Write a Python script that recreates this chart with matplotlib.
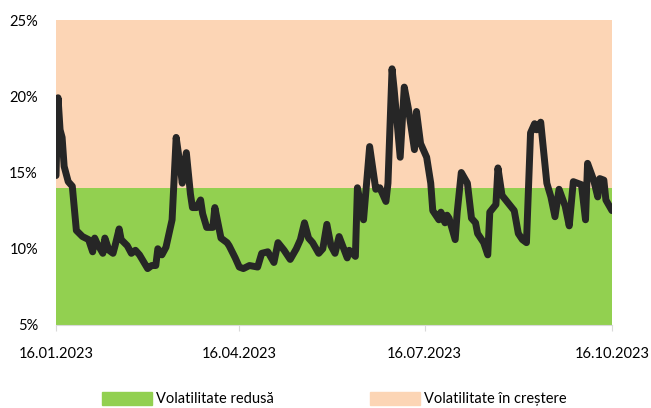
import matplotlib.pyplot as plt
import matplotlib.dates as mdates
from matplotlib.patches import Patch
import pandas as pd

# days since 16.01.2023 and volatility (%)
start_date = "2023-01-16"
days = [0, 1, 2, 3, 4, 6, 8, 10, 13, 16, 18, 19, 20, 23, 24, 26, 28, 29, 31, 32,
        35, 37, 39, 41, 45, 47, 49, 50, 52, 54, 57, 59, 61, 62, 64, 66, 67, 69, 71, 72,
        74, 77, 78, 81, 84, 85, 88, 90, 92, 95, 99, 101, 104, 107, 109, 112, 115, 118, 120, 122,
        124, 126, 129, 131, 133, 135, 137, 139, 141, 143, 144, 147, 148, 151, 154, 157, 159, 162, 163, 165,
        166, 169, 171, 173, 176, 177, 179, 182, 184, 185, 188, 189, 191, 192, 193, 196, 197, 199, 202, 204,
        206, 207, 210, 212, 213, 216, 217, 219, 222, 225, 227, 229, 231, 233, 235, 236, 238, 241, 243, 245,
        247, 250, 252, 254, 258, 260, 261, 264, 266, 267, 269, 270, 273]
volatility = [14.8, 19.9, 17.8, 17.3, 15.4, 14.4, 14.1, 11.2, 10.8, 10.6, 9.8, 10.7, 10.4, 9.7, 10.7, 9.9, 9.7, 10.2, 11.3, 10.6,
              10.2, 9.7, 9.9, 9.6, 8.7, 8.9, 8.9, 10.0, 9.6, 10.1, 11.9, 17.3, 15.4, 14.3, 16.3, 13.6, 12.7, 12.7, 13.2, 12.3,
              11.4, 11.4, 12.7, 10.7, 10.4, 10.2, 9.4, 8.8, 8.7, 8.9, 8.8, 9.7, 9.8, 9.1, 10.4, 9.9, 9.3, 10.0, 10.6, 11.7,
              10.7, 10.4, 9.7, 10.0, 11.6, 10.2, 9.7, 10.8, 10.1, 9.4, 9.9, 9.5, 14.0, 11.9, 16.7, 13.9, 14.0, 13.1, 14.3, 21.8,
              20.5, 16.0, 20.6, 19.2, 16.5, 19.0, 16.9, 16.0, 14.3, 12.5, 11.9, 12.4, 11.7, 12.2, 12.0, 10.6, 12.4, 15.0, 14.3, 12.0,
              11.7, 11.0, 10.4, 9.6, 12.4, 12.9, 15.3, 13.5, 13.0, 12.5, 11.0, 10.6, 10.4, 17.6, 18.2, 17.8, 18.3, 14.3, 13.4, 12.1,
              13.9, 12.8, 11.5, 14.4, 14.2, 11.9, 15.6, 14.5, 13.4, 14.6, 14.5, 13.2, 12.5]

low_limit = 14
y_min, y_max = 5, 25
y_ticks = [5, 10, 15, 20, 25]
x_ticks = ["2023-01-16", "2023-04-16", "2023-07-16", "2023-10-16"]
legend_labels = ["Volatilitate redusă", "Volatilitate în creștere"]
green = "#92d050"
peach = "#fcd5b5"

dates = pd.Timestamp(start_date) + pd.to_timedelta(days, unit="D")

plt.rcParams["font.family"] = ["Lato", "DejaVu Sans"]
fig = plt.figure(figsize=(6.51, 4.08), dpi=100)
ax = fig.add_axes([56 / 651, 1 - 325 / 408, 556 / 651, 305 / 408])

ax.fill_between(dates, y_min, low_limit, color=green, lw=0)
ax.fill_between(dates, low_limit, y_max, color=peach, lw=0)
ax.plot(dates, volatility, color="#262626", lw=5, solid_joinstyle="round", solid_capstyle="round")

ax.set_xlim(dates[0], dates[-1])
ax.set_ylim(y_min, y_max)
ax.set_yticks(y_ticks)
ax.set_yticklabels([f"{t}%" for t in y_ticks])
ax.set_xticks(pd.to_datetime(x_ticks))
ax.xaxis.set_major_formatter(mdates.DateFormatter("%d.%m.%Y"))

for side in ["top", "right", "left"]:
    ax.spines[side].set_visible(False)
ax.spines["bottom"].set_color("#d9d9d9")
ax.tick_params(axis="y", length=0, pad=13, labelsize=10.5)
ax.tick_params(axis="x", length=4, color="#d9d9d9", pad=12, labelsize=10.5)

handles = [Patch(color=green), Patch(color=peach)]
fig.legend(handles, legend_labels, loc="center", bbox_to_anchor=(0.514, 1 - 399 / 408),
           ncol=2, frameon=False, fontsize=10.5, handlelength=3.4, handleheight=1.0,
           handletextpad=0.3, columnspacing=6.6)

fig.savefig("out.png", dpi=100)
